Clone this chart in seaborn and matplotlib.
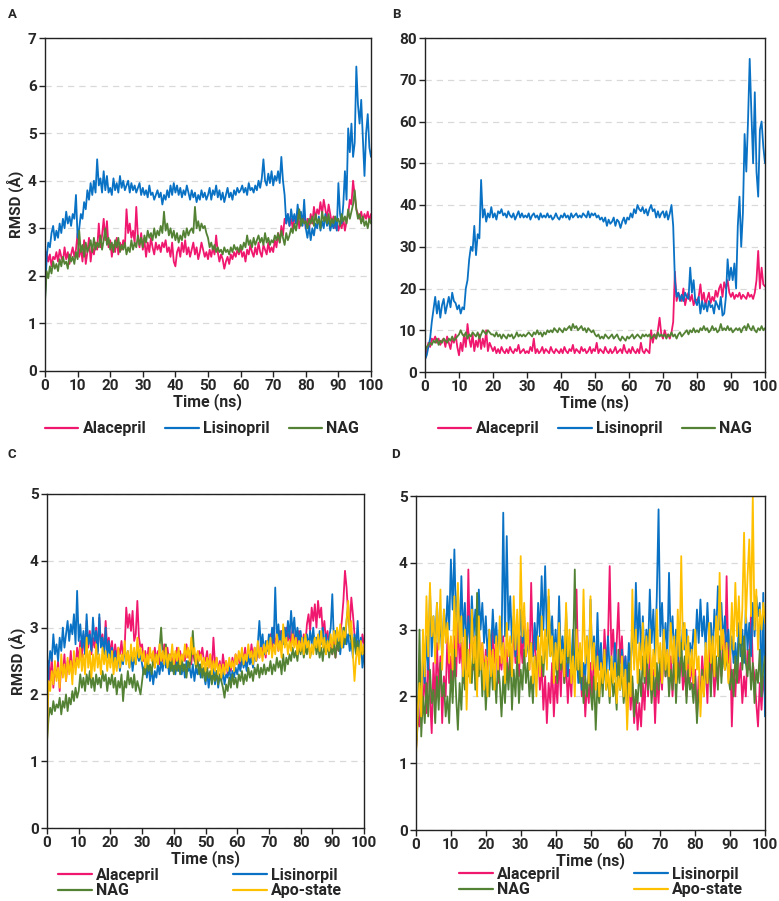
import numpy as np
import pandas as pd
import matplotlib
matplotlib.use("Agg")
import matplotlib.pyplot as plt
from matplotlib.lines import Line2D
import seaborn as sns

sns.set_style("ticks")
plt.rcParams['font.family'] = ['Roboto', 'DejaVu Sans']
plt.rcParams['font.weight'] = 'bold'
plt.rcParams['axes.labelweight'] = 'bold'

# ---------------- data (RMSD, sampled every 0.5 ns from 0 to 100 ns) ----------------
A_ala = [1.6, 2.5, 2.3, 2.45, 2.2, 2.4, 2.35, 2.5, 2.3, 2.55, 2.4, 2.3, 2.6, 2.35, 2.5, 2.25, 2.45, 2.6, 2.4, 2.55,
         2.9, 2.4, 2.6, 2.3, 2.75, 2.25, 2.5, 2.8, 2.3, 2.6, 2.45, 2.7, 2.55, 3.1, 2.6, 2.85, 3.2, 2.75, 3.15, 2.6,
         2.75, 2.4, 2.65, 2.5, 2.8, 2.45, 2.7, 2.55, 2.75, 2.6, 3.4, 2.9, 3.1, 2.8, 2.95, 2.7, 3.45, 2.8, 2.6, 2.9,
         2.55, 2.75, 2.4, 2.7, 2.5, 2.8, 2.6, 2.45, 2.7, 2.55, 2.65, 2.5, 2.7, 2.6, 2.75, 2.5, 2.6, 2.4, 2.7, 2.3,
         2.2, 2.5, 2.6, 2.4, 2.7, 2.5, 2.75, 2.45, 2.6, 2.4, 2.55, 2.7, 2.45, 2.6, 2.35, 2.5, 2.7, 2.55, 2.4, 2.5,
         2.35, 2.55, 2.4, 2.6, 2.45, 2.85, 2.5, 2.3, 2.45, 2.35, 2.15, 2.3, 2.4, 2.25, 2.45, 2.35, 2.5, 2.4, 2.55, 2.45,
         2.6, 2.4, 2.5, 2.3, 2.55, 2.45, 2.65, 2.5, 2.4, 2.6, 2.45, 2.7, 2.5, 2.4, 2.65, 2.55, 2.45, 2.7, 2.5, 2.6,
         2.5, 2.75, 2.6, 2.9, 2.7, 3.05, 2.85, 3.2, 3.1, 3.3, 3.05, 3.2, 3.0, 3.25, 3.1, 3.35, 3.0, 3.2, 3.1, 3.3,
         3.0, 3.2, 2.95, 3.3, 3.1, 3.45, 3.2, 3.4, 3.3, 3.55, 3.3, 3.6, 3.4, 3.2, 3.5, 3.3, 3.1, 3.25, 3.0, 3.15,
         2.95, 3.1, 3.0, 3.2, 2.95, 3.15, 3.3, 3.6, 3.5, 4.0, 3.7, 3.4, 3.3, 3.2, 3.35, 3.15, 3.3, 3.2, 3.35, 3.15, 3.3]
A_lis = [1.5, 2.4, 2.7, 2.6, 2.9, 3.05, 2.75, 2.95, 2.8, 3.1, 2.9, 3.2, 3.0, 3.35, 3.1, 3.25, 3.05, 3.3, 3.2, 3.7,
         2.8, 3.0, 3.3, 3.2, 3.55, 3.4, 3.8, 3.6, 3.95, 3.7, 4.0, 3.75, 4.45, 3.9, 4.05, 3.75, 4.2, 3.8, 4.1, 3.75,
         3.85, 3.7, 4.05, 3.8, 3.95, 3.75, 4.1, 3.85, 4.0, 3.8, 3.9, 4.0, 3.75, 3.95, 3.8, 3.9, 3.75, 3.85, 3.95, 3.7,
         3.85, 3.7, 3.8, 3.65, 3.9, 3.7, 3.75, 3.6, 3.7, 3.8, 3.65, 3.75, 3.5, 3.7, 3.6, 3.8, 3.65, 3.9, 3.7, 3.95,
         3.75, 3.9, 3.7, 3.85, 3.65, 3.8, 3.7, 3.9, 3.75, 3.6, 3.8, 3.65, 3.75, 3.55, 3.7, 3.6, 3.8, 3.65, 3.75, 3.6,
         3.7, 3.85, 3.6, 3.8, 3.7, 3.9, 3.65, 3.8, 3.6, 3.75, 3.55, 3.7, 3.85, 3.65, 3.75, 3.6, 3.8, 3.7, 3.85, 3.75,
         3.8, 3.9, 3.75, 3.85, 3.7, 3.95, 3.8, 3.85, 3.75, 3.9, 3.8, 4.0, 3.85, 4.05, 4.45, 4.0, 3.9, 4.15, 3.95, 4.2,
         3.9, 4.1, 4.0, 4.2, 3.95, 4.5, 4.0, 3.7, 3.1, 3.3, 3.05, 3.4, 3.15, 3.3, 3.1, 3.5, 3.2, 3.35, 3.05, 3.6,
         3.0, 2.8, 3.05, 2.75, 3.0, 2.85, 3.1, 3.0, 3.25, 2.95, 3.15, 3.0, 3.3, 3.05, 3.2, 2.95, 3.1, 3.0, 3.2, 2.95,
         3.95, 3.3, 3.1, 3.5, 4.2, 3.6, 5.1, 4.6, 5.2, 4.5, 4.8, 6.4, 5.6, 5.2, 5.7, 4.9, 4.1, 5.0, 5.4, 4.7, 4.5]
A_nag = [1.45, 2.1, 1.95, 2.2, 2.05, 2.3, 2.15, 2.25, 2.1, 2.35, 2.2, 2.4, 2.25, 2.3, 2.15, 2.45, 2.3, 2.4, 2.25, 2.5,
         2.35, 2.95, 2.5, 2.65, 2.4, 2.7, 2.5, 2.6, 2.75, 2.5, 2.8, 2.55, 2.7, 2.6, 2.85, 2.55, 2.75, 3.0, 2.65, 2.8,
         2.55, 2.7, 2.5, 2.75, 2.6, 2.8, 2.5, 2.65, 2.55, 2.7, 2.45, 2.6, 2.5, 2.75, 2.55, 2.7, 2.6, 2.85, 2.65, 2.8,
         2.6, 2.85, 2.7, 2.95, 2.8, 2.9, 2.75, 3.0, 2.8, 2.95, 2.85, 3.05, 2.9, 3.35, 2.95, 3.1, 2.85, 3.0, 2.8, 2.95,
         2.75, 2.9, 2.7, 2.85, 2.75, 2.95, 2.8, 3.0, 2.85, 2.95, 3.0, 2.9, 3.45, 3.0, 3.15, 2.95, 3.1, 3.0, 3.05, 2.9,
         2.8, 2.6, 2.7, 2.55, 2.65, 2.5, 2.6, 2.5, 2.55, 2.45, 2.6, 2.5, 2.55, 2.45, 2.6, 2.5, 2.65, 2.55, 2.6, 2.5,
         2.65, 2.55, 2.7, 2.6, 2.85, 2.65, 2.75, 2.6, 2.8, 2.65, 2.75, 2.85, 2.7, 2.8, 2.65, 2.9, 2.7, 2.8, 2.65, 2.75,
         2.7, 2.85, 2.75, 2.9, 2.7, 2.95, 2.8, 2.65, 2.9, 2.75, 2.85, 3.0, 2.9, 3.1, 2.95, 3.15, 3.4, 3.05, 3.2, 3.1,
         3.15, 3.0, 3.2, 3.1, 3.25, 3.05, 3.3, 3.1, 3.2, 3.0, 3.35, 3.15, 3.25, 3.1, 3.3, 3.05, 3.2, 3.1, 3.25, 3.15,
         3.2, 3.05, 3.3, 3.15, 3.25, 3.1, 3.4, 3.2, 3.35, 3.5, 3.8, 3.4, 3.2, 3.3, 3.1, 3.25, 3.05, 3.15, 3.0, 3.2, 3.1]

B_ala = [3, 5, 7, 6, 8, 7.5, 8.5, 7, 8, 6.5, 7.5, 8, 6, 8.5, 7, 5.5, 8, 7, 9, 6,
         4, 7, 5, 9, 6, 11.5, 8, 6, 9, 5, 7.5, 6, 9, 5.5, 8, 6, 10, 5, 7, 6,
         5, 6, 4.5, 5.5, 4.5, 6, 5, 4.5, 5.5, 4.5, 6, 5, 4.5, 5.5, 5, 6.5, 4.5, 5, 5.5, 4.5,
         5, 4.5, 6, 5, 8, 4.5, 5.5, 4.5, 5, 6, 4.5, 5.5, 5, 4.5, 6, 5, 4.5, 5.5, 5, 4.5,
         5.5, 4.5, 6, 5, 4.5, 5.5, 5, 6.5, 4.5, 5.5, 5, 4.5, 6, 5, 5.5, 4.5, 5, 6, 4.5, 5.5,
         5, 7, 4.5, 5.5, 5, 4.5, 6, 5, 4.5, 5.5, 4.5, 5, 6, 4.5, 5, 5.5, 4.5, 6.5, 5, 4.5,
         5.5, 4.5, 6, 5, 4.5, 5.5, 4.5, 7, 5, 4.5, 5.5, 5, 4.5, 10, 7, 9, 8, 10, 13, 9,
         8, 10, 8.5, 9, 8, 9.5, 12, 24, 17, 19, 18, 17, 20, 16, 18, 19, 17, 18.5, 16, 17.5,
         17, 18, 21, 17, 19, 16, 17.5, 19, 16.5, 18, 17, 19.5, 18, 20, 21, 18, 21.5, 20, 22, 19,
         18, 19, 17.5, 18.5, 18, 19, 17.5, 18.5, 18, 17.5, 19, 18, 18.5, 17.5, 19, 22, 29, 20, 25, 21, 20.5]
B_lis = [3, 4, 6, 8, 12, 15, 18, 14, 17, 13, 16, 17.5, 14, 16, 18, 15.5, 19, 17, 16.5, 15,
         16, 14, 15.5, 15, 20, 22, 27, 30, 29, 35, 28, 33, 32, 46, 37, 39, 36, 38, 37, 39.5,
         37, 38, 36.5, 38.5, 38, 39, 37.5, 38, 37, 38.5, 37.5, 37, 38, 36.5, 37.5, 38.5, 37, 38, 37, 37.5,
         37, 38, 36.5, 37.5, 38, 37, 37.5, 36.5, 38, 37, 37.5, 37, 38, 37, 37.5, 36.5, 37, 38, 37, 36.5,
         37.5, 37, 38, 37, 37.5, 36.5, 38, 37, 37.5, 38, 37, 37.5, 37, 38, 37.5, 37, 38.5, 37, 38, 37.5,
         38, 37, 37.5, 36.5, 37, 36, 37, 35, 36.5, 35.5, 36, 37, 35, 36.5, 36, 34.5, 36, 37, 35.5, 37,
         36.5, 38, 37, 39, 38, 40, 39, 38.5, 39.5, 38, 39, 37.5, 39, 40, 38.5, 39, 37, 38.5, 37, 38,
         38.5, 37, 38.5, 36.5, 38, 40, 35, 22, 18, 19, 17, 18.5, 17, 19, 18, 17.5, 25, 19, 22, 17,
         16, 18, 14, 17, 15, 16.5, 14.5, 17, 15.5, 16, 14, 17, 16, 15, 18, 13.5, 14, 18, 27, 22,
         25, 22, 26, 20, 35, 42, 30, 38, 57, 48, 60, 75, 62, 50, 67, 48, 42, 58, 60, 54, 50]
B_nag = [5, 6, 6.5, 7, 6.5, 7.5, 7, 8, 6.5, 7.5, 7, 8, 7.5, 7, 8, 7.5, 8.5, 7.5, 8, 8.5,
         9, 10, 9, 8.5, 9.5, 8, 9, 8.5, 9.5, 9, 8.5, 9.5, 8, 9, 10, 9.5, 9, 10, 9.5, 9,
         9, 8.5, 9.5, 8.5, 9, 8, 9, 8.5, 8, 9, 8.5, 9, 8, 8.5, 9.5, 8.5, 9, 8.5, 9, 8.5,
         9, 9.5, 9, 8.5, 9.5, 9, 10, 9, 9.5, 8.5, 9.5, 9, 10, 9.5, 10, 9.5, 10.5, 10, 9.5, 10.5,
         10, 9.5, 10.5, 10, 10.5, 11, 10, 11.5, 10.5, 11, 10, 10.5, 11, 10, 10.5, 9.5, 10.5, 10, 9.5, 10,
         9, 8.5, 9, 8, 8.5, 8, 9, 8.5, 8, 8.5, 9, 8, 8.5, 9, 8, 7.5, 8.5, 8, 7.5, 8.5,
         8, 8.5, 9, 8, 8.5, 9, 8.5, 8, 9, 8.5, 9, 8.5, 9, 8, 8.5, 9, 8, 9.5, 8.5, 9,
         8.5, 9, 8, 9, 8.5, 9.5, 8.5, 9, 8, 9, 9.5, 8.5, 9, 9.5, 10, 9, 10, 9.5, 10.5, 9.5,
         10, 9.5, 10.5, 10, 11, 10, 10.5, 9.5, 10, 11, 10, 10.5, 9.5, 10, 11.5, 10, 10.5, 10, 11, 10,
         10.5, 9.5, 10, 10.5, 10, 10.5, 9.5, 10.5, 11, 10, 11.5, 10.5, 10, 11, 10, 9.5, 10.5, 10, 11, 10, 10.5]

C_ala = [1.5, 2.5, 2.2, 2.55, 2.1, 2.4, 2.25, 2.5, 2.05, 2.45, 2.3, 2.6, 2.2, 2.5, 2.35, 2.65, 2.3, 2.55, 2.4, 2.7,
         2.5, 2.8, 2.55, 2.9, 2.6, 3.1, 2.7, 2.95, 2.6, 2.85, 2.7, 3.0, 2.65, 3.15, 2.75, 2.9, 2.6, 3.1, 2.7, 2.85,
         2.6, 2.8, 2.5, 2.75, 2.55, 2.7, 2.6, 2.8, 2.55, 2.7, 3.3, 3.0, 3.2, 2.95, 3.25, 2.8, 2.9, 3.4, 2.85, 2.7,
         2.75, 2.5, 2.65, 2.45, 2.7, 2.55, 2.6, 2.45, 2.7, 2.5, 2.65, 2.45, 2.6, 2.5, 2.75, 2.55, 2.7, 2.5, 2.6, 2.45,
         2.6, 2.45, 2.7, 2.5, 2.65, 2.45, 2.6, 2.5, 2.75, 2.55, 2.65, 2.45, 2.7, 2.5, 2.6, 2.45, 2.65, 2.55, 2.7, 2.5,
         2.5, 2.65, 2.4, 2.6, 2.35, 2.85, 2.45, 2.55, 2.35, 2.5, 2.3, 2.6, 2.4, 2.5, 2.3, 2.45, 2.35, 2.55, 2.4, 2.6,
         2.45, 2.6, 2.4, 2.65, 2.5, 2.7, 2.45, 2.6, 2.5, 2.75, 2.55, 2.7, 2.5, 2.65, 2.55, 2.8, 2.6, 2.7, 2.55, 2.8,
         2.65, 2.9, 2.7, 3.0, 2.75, 2.85, 2.65, 2.95, 2.7, 2.9, 2.75, 3.0, 2.8, 2.95, 2.7, 3.05, 2.8, 2.9, 2.75, 2.95,
         2.8, 2.7, 2.9, 2.75, 3.05, 3.2, 2.95, 3.3, 3.1, 3.35, 3.0, 3.4, 3.15, 3.3, 2.9, 3.1, 2.8, 2.95, 2.7, 2.85,
         2.6, 2.8, 2.55, 2.75, 2.65, 2.9, 3.1, 3.4, 3.85, 3.6, 3.2, 3.0, 3.45, 3.2, 2.9, 2.75, 2.6, 2.8, 2.65, 2.9, 2.75]
C_lis = [1.5, 2.4, 2.65, 2.5, 2.9, 2.6, 2.75, 2.5, 2.85, 2.65, 3.0, 2.7, 2.9, 3.1, 2.8, 3.05, 2.9, 3.2, 2.75, 3.55,
         2.8, 3.05, 2.7, 2.95, 2.6, 3.2, 2.75, 2.9, 2.65, 3.15, 2.8, 2.95, 2.6, 3.2, 2.7, 2.85, 2.6, 3.0, 2.55, 2.8,
         2.5, 2.7, 2.45, 2.65, 2.4, 2.6, 2.35, 2.55, 2.45, 2.7, 2.5, 2.65, 2.4, 2.6, 2.35, 2.55, 2.45, 2.65, 2.5, 2.6,
         2.45, 2.3, 2.5, 2.25, 2.45, 2.2, 2.4, 2.15, 2.35, 2.25, 2.45, 2.3, 2.5, 2.35, 2.6, 2.4, 2.55, 2.3, 2.5, 2.35,
         2.45, 2.3, 2.5, 2.35, 2.55, 2.3, 2.45, 2.25, 2.5, 2.35, 2.4, 2.25, 2.45, 2.2, 2.4, 2.3, 2.45, 2.25, 2.4, 2.3,
         2.15, 2.35, 2.1, 2.3, 2.2, 2.4, 2.15, 2.35, 2.1, 2.3, 2.2, 2.35, 2.15, 2.3, 2.25, 2.4, 2.2, 2.35, 2.25, 2.4,
         2.3, 2.45, 2.35, 2.55, 2.4, 2.5, 2.35, 2.6, 2.45, 2.55, 2.4, 2.65, 2.5, 2.75, 3.1, 2.7, 2.9, 2.6, 2.8, 2.65,
         2.9, 2.7, 3.0, 2.75, 3.6, 2.8, 3.05, 2.7, 2.95, 2.75, 3.0, 2.8, 3.1, 2.85, 3.25, 2.9, 3.15, 2.8, 3.0, 2.75,
         2.95, 2.7, 2.85, 2.65, 2.9, 2.7, 2.95, 2.75, 3.0, 2.7, 2.85, 2.65, 2.95, 2.75, 3.0, 2.7, 2.9, 2.65, 2.85, 3.0,
         3.5, 2.8, 2.95, 2.7, 2.9, 2.6, 2.85, 2.7, 3.0, 2.75, 2.9, 2.65, 2.8, 2.55, 2.9, 2.7, 3.1, 2.6, 2.85, 2.4, 2.6]
C_nag = [1.3, 1.65, 1.8, 1.7, 1.9, 1.75, 1.85, 1.8, 1.95, 1.7, 1.9, 1.8, 2.0, 1.75, 1.95, 1.85, 2.05, 1.9, 2.1, 1.95,
         2.05, 2.3, 2.1, 2.25, 2.05, 2.3, 2.15, 2.35, 2.1, 2.25, 2.05, 2.3, 2.15, 2.25, 2.1, 2.35, 2.2, 2.3, 2.05, 2.25,
         2.15, 2.3, 2.1, 2.25, 2.0, 2.2, 2.1, 2.3, 1.9, 2.2, 2.1, 2.35, 2.15, 2.25, 2.1, 2.3, 2.05, 2.2, 2.1, 2.0,
         2.2, 2.4, 2.3, 2.5, 2.35, 2.45, 2.3, 2.55, 2.4, 2.6, 2.45, 2.7, 3.0, 2.6, 2.5, 2.75, 2.4, 2.6, 2.35, 2.5,
         2.3, 2.45, 2.35, 2.5, 2.3, 2.55, 2.35, 2.45, 2.25, 2.5, 2.4, 2.6, 2.95, 2.55, 2.4, 2.5, 2.3, 2.45, 2.25, 2.4,
         2.2, 2.4, 2.25, 2.35, 2.15, 2.3, 2.2, 2.35, 2.15, 2.3, 2.2, 2.1, 1.95, 2.15, 2.05, 2.25, 2.1, 2.3, 2.15, 2.25,
         2.1, 2.3, 2.2, 2.35, 2.15, 2.3, 2.2, 2.4, 2.25, 2.35, 2.2, 2.4, 2.3, 2.45, 2.25, 2.4, 2.3, 2.45, 2.3, 2.4,
         2.35, 2.5, 2.3, 2.45, 2.35, 2.55, 2.4, 2.5, 2.3, 2.6, 2.35, 2.55, 2.45, 2.6, 2.5, 2.7, 2.55, 2.65, 2.5, 2.75,
         2.6, 2.75, 2.55, 2.7, 2.6, 2.8, 2.55, 2.7, 2.65, 2.85, 2.6, 2.75, 2.55, 2.7, 2.5, 2.75, 2.6, 2.8, 2.55, 2.7,
         2.6, 2.75, 2.55, 2.8, 2.65, 2.9, 2.7, 3.0, 2.75, 3.1, 3.35, 2.9, 2.8, 2.65, 2.85, 2.6, 2.8, 2.55, 2.75, 2.6, 2.7]
C_apo = [1.25, 2.2, 2.05, 2.35, 2.15, 2.5, 2.2, 2.4, 2.1, 2.6, 2.25, 2.45, 2.2, 2.55, 2.3, 2.5, 2.15, 2.65, 2.3, 2.55,
         2.4, 2.7, 2.35, 2.6, 2.3, 2.85, 2.4, 2.65, 2.25, 2.6, 2.35, 2.75, 2.4, 2.6, 2.3, 2.7, 2.45, 2.65, 2.35, 2.6,
         2.4, 2.65, 2.3, 2.55, 2.35, 2.7, 2.4, 2.6, 2.5, 2.8, 2.45, 2.65, 2.4, 2.75, 2.5, 2.7, 2.45, 2.85, 2.55, 2.7,
         2.5, 2.65, 2.4, 2.6, 2.45, 2.7, 2.5, 2.65, 2.4, 2.6, 2.45, 2.75, 2.5, 2.65, 2.45, 2.7, 2.4, 2.6, 2.5, 2.75,
         2.45, 2.65, 2.5, 2.7, 2.45, 2.6, 2.5, 2.75, 2.55, 2.7, 2.5, 2.85, 2.6, 2.7, 2.45, 2.65, 2.5, 2.6, 2.4, 2.55,
         2.35, 2.55, 2.4, 2.6, 2.3, 2.5, 2.35, 2.55, 2.3, 2.45, 2.25, 2.45, 2.3, 2.5, 2.35, 2.55, 2.4, 2.5, 2.35, 2.6,
         2.45, 2.65, 2.5, 2.7, 2.45, 2.6, 2.5, 2.75, 2.55, 2.65, 2.45, 2.7, 2.5, 2.8, 2.55, 2.7, 2.5, 2.75, 2.6, 2.8,
         2.6, 2.85, 2.55, 2.75, 2.6, 2.9, 2.65, 2.8, 2.55, 3.05, 2.7, 2.85, 2.6, 2.8, 2.65, 2.9, 2.7, 2.85, 2.6, 2.8,
         2.65, 2.85, 2.6, 2.9, 2.7, 2.8, 2.55, 2.75, 2.6, 2.85, 2.7, 2.9, 2.65, 2.95, 2.7, 2.85, 2.6, 2.8, 2.65, 2.9,
         2.7, 2.95, 2.75, 3.0, 2.8, 3.05, 2.7, 2.95, 2.85, 3.1, 3.4, 2.9, 3.1, 2.6, 2.2, 2.55, 2.7, 2.45, 2.8, 2.6, 2.75]

D_ala = [1.2, 1.7, 1.55, 2.1, 1.8, 2.4, 1.75, 2.7, 2.0, 1.45, 2.5, 1.9, 2.8, 2.1, 2.6, 1.6, 2.3, 2.0, 2.9, 2.2,
         2.6, 2.1, 2.9, 2.3, 3.1, 2.5, 2.8, 2.2, 3.0, 2.4, 3.9, 2.6, 3.2, 2.4, 2.9, 2.2, 3.0, 2.5, 2.8, 2.3,
         2.7, 2.2, 2.9, 2.4, 3.0, 2.5, 2.8, 2.2, 2.6, 2.4, 2.9, 2.3, 2.7, 2.2, 2.6, 2.4, 3.1, 2.5, 2.8, 2.3,
         2.9, 2.5, 3.2, 2.6, 3.0, 2.4, 3.7, 2.6, 2.9, 2.3, 2.7, 2.1, 2.5, 1.8, 2.3, 1.6, 2.2, 1.9, 2.5, 1.7,
         2.3, 1.9, 2.6, 2.0, 2.8, 2.2, 2.5, 1.9, 2.4, 2.0, 2.7, 2.2, 3.6, 2.3, 2.6, 2.0, 2.4, 1.7, 2.2, 1.9,
         2.5, 2.0, 2.7, 2.2, 2.9, 2.4, 2.6, 2.2, 3.0, 2.5, 2.8, 3.95, 2.6, 3.0, 2.4, 2.8, 3.4, 2.5, 2.9, 2.3,
         2.6, 2.0, 2.4, 1.8, 2.2, 1.6, 2.0, 1.5, 1.9, 1.55, 2.2, 1.8, 2.5, 2.0, 2.7, 2.2, 2.4, 1.6, 2.3, 1.9,
         2.5, 2.1, 2.9, 2.3, 2.7, 2.2, 2.6, 2.0, 2.5, 2.2, 2.8, 2.3, 2.6, 2.1, 2.4, 2.0, 2.7, 2.2, 2.5, 2.1,
         2.4, 1.7, 2.3, 2.0, 2.6, 2.2, 2.5, 1.9, 2.8, 2.3, 2.6, 2.0, 2.4, 2.2, 2.7, 2.3, 2.9, 2.4, 3.8, 2.5,
         2.8, 1.55, 2.4, 2.0, 2.6, 2.2, 2.5, 1.9, 2.3, 2.0, 2.7, 2.4, 3.3, 2.5, 2.3, 1.9, 1.55, 2.2, 1.8, 2.3, 2.0]
D_lis = [1.3, 1.9, 2.1, 1.8, 2.6, 2.2, 2.9, 2.4, 3.6, 2.6, 3.2, 2.7, 3.4, 2.8, 3.1, 2.6, 3.3, 2.9, 3.5, 3.0,
         4.05, 3.3, 4.2, 3.0, 3.6, 2.8, 3.8, 2.9, 3.4, 2.7, 3.2, 2.8, 3.5, 2.9, 3.3, 2.7, 3.6, 3.0, 3.4, 2.8,
         3.2, 2.6, 3.0, 2.7, 3.3, 2.8, 3.1, 2.6, 3.0, 2.7, 4.75, 2.9, 4.4, 3.0, 3.5, 2.8, 3.2, 2.6, 3.0, 2.7,
         3.3, 2.8, 3.0, 2.6, 2.9, 2.5, 2.8, 2.6, 3.1, 2.7, 3.4, 2.9, 3.8, 3.0, 3.95, 2.9, 3.5, 2.8, 3.2, 2.6,
         3.0, 2.5, 3.5, 2.6, 2.9, 2.4, 2.8, 2.3, 2.7, 2.5, 3.0, 2.4, 2.8, 2.2, 2.6, 2.1, 2.5, 2.3, 2.9, 2.4,
         3.45, 2.5, 2.9, 2.3, 3.25, 2.4, 2.8, 2.2, 2.7, 2.3, 2.9, 2.4, 2.6, 2.2, 2.8, 2.3, 2.5, 2.1, 2.7, 2.3,
         2.6, 2.2, 2.8, 2.4, 3.1, 2.5, 3.7, 2.8, 3.4, 2.6, 3.2, 2.5, 3.0, 2.7, 3.6, 2.8, 3.3, 2.6, 3.5, 4.8,
         2.9, 3.4, 2.7, 3.1, 2.6, 3.85, 2.8, 3.2, 2.6, 3.0, 2.5, 2.9, 2.6, 3.1, 2.7, 3.0, 2.5, 2.8, 2.6, 3.0,
         2.7, 3.3, 2.8, 3.45, 2.9, 3.2, 2.7, 3.4, 2.8, 3.1, 2.6, 3.3, 2.9, 3.65, 3.0, 3.4, 2.8, 3.2, 2.7, 3.0,
         2.6, 2.9, 2.5, 2.8, 2.4, 3.1, 2.6, 3.0, 2.5, 3.3, 2.7, 3.1, 2.6, 3.4, 2.9, 3.5, 3.2, 3.4, 2.0, 3.55, 1.7]
D_nag = [1.2, 1.6, 3.0, 1.4, 2.0, 1.6, 2.2, 1.7, 2.4, 1.9, 2.1, 1.6, 2.3, 1.8, 2.5, 2.0, 2.2, 1.7, 2.0, 1.6,
         2.4, 1.9, 2.7, 2.0, 1.5, 2.2, 1.8, 2.5, 2.1, 2.9, 2.3, 2.6, 2.2, 2.8, 2.1, 3.55, 2.3, 2.7, 2.0, 2.5,
         1.8, 2.3, 2.0, 2.6, 2.1, 2.4, 1.9, 2.5, 2.2, 1.7, 2.3, 1.9, 2.5, 2.1, 2.7, 1.8, 2.4, 2.0, 2.6, 1.9,
         2.4, 2.1, 2.7, 2.2, 2.5, 2.0, 2.3, 1.9, 2.6, 2.2, 2.8, 2.4, 2.6, 2.3, 2.9, 2.5, 3.1, 2.6, 2.8, 2.3,
         2.6, 2.2, 2.9, 2.4, 2.7, 2.2, 3.3, 2.5, 2.8, 2.3, 2.6, 3.9, 2.4, 2.7, 2.2, 2.5, 1.9, 2.3, 2.0, 2.4,
         2.1, 1.8, 2.3, 1.5, 2.2, 1.9, 2.4, 2.0, 2.6, 2.1, 2.3, 1.9, 2.5, 2.0, 2.2, 1.8, 2.7, 2.1, 2.4, 1.9,
         2.2, 1.8, 2.5, 2.0, 2.3, 1.7, 2.1, 1.9, 2.4, 2.0, 2.6, 2.2, 2.8, 2.1, 2.4, 1.9, 2.3, 2.0, 2.5, 2.1,
         2.7, 2.2, 2.9, 2.3, 2.6, 2.0, 2.4, 2.1, 2.7, 1.9, 2.5, 2.2, 2.8, 2.3, 2.6, 1.9, 2.4, 2.1, 2.2, 1.9,
         2.3, 1.6, 2.1, 1.9, 2.4, 2.0, 2.7, 2.2, 2.5, 2.0, 2.8, 2.3, 2.6, 2.1, 2.9, 2.2, 2.7, 2.4, 2.6, 2.3,
         2.1, 2.4, 2.0, 2.6, 2.2, 2.8, 3.0, 2.4, 2.9, 2.5, 2.3, 2.7, 2.1, 2.5, 1.9, 2.4, 2.2, 2.7, 2.0, 2.4, 2.6]
D_apo = [1.1, 1.8, 2.2, 1.7, 3.0, 2.3, 3.5, 2.6, 3.7, 2.9, 3.2, 2.5, 3.4, 2.7, 3.6, 2.4, 3.3, 2.8, 3.1, 2.5,
         2.9, 2.4, 3.5, 2.6, 3.7, 2.8, 3.2, 2.3, 3.0, 1.8, 2.7, 2.2, 3.3, 2.5, 2.9, 2.0, 3.2, 2.4, 2.8, 2.1,
         2.6, 2.0, 3.0, 2.3, 2.7, 2.1, 2.9, 2.4, 3.2, 2.5, 2.8, 2.2, 3.1, 2.6, 2.9, 2.3, 3.5, 2.7, 3.3, 2.5,
         4.1, 2.9, 3.4, 2.6, 3.1, 2.4, 2.8, 2.2, 2.6, 2.0, 2.9, 2.3, 3.2, 2.5, 3.0, 2.4, 3.6, 2.6, 2.9, 2.2,
         2.8, 2.4, 3.1, 2.5, 2.7, 2.3, 3.4, 2.6, 3.0, 2.2, 2.6, 2.0, 3.0, 2.4, 2.8, 2.3, 3.6, 2.5, 2.9, 2.2,
         3.5, 2.4, 2.8, 2.1, 2.6, 2.0, 2.5, 2.2, 2.7, 2.1, 2.4, 2.0, 2.6, 2.2, 2.5, 1.9, 2.3, 2.1, 2.6, 2.0,
         2.4, 1.5, 2.2, 2.0, 3.6, 2.4, 3.0, 2.2, 2.8, 2.4, 3.1, 2.3, 2.9, 2.5, 3.0, 2.1, 2.7, 2.3, 3.3, 2.5,
         2.8, 2.2, 3.0, 2.4, 2.7, 2.3, 3.1, 2.5, 2.9, 2.2, 3.3, 2.6, 4.1, 2.7, 3.1, 2.4, 2.9, 2.3, 2.7, 2.2,
         3.0, 2.4, 2.6, 1.7, 2.3, 2.0, 2.8, 2.2, 3.1, 2.5, 2.9, 2.3, 3.2, 2.6, 3.85, 2.7, 3.0, 2.4, 2.8, 2.2,
         2.6, 3.4, 2.7, 3.7, 2.9, 3.5, 2.8, 3.3, 4.45, 3.1, 3.8, 4.35, 3.2, 5.0, 3.0, 3.6, 2.7, 3.3, 3.0, 3.4, 3.1]

x_ticks = [0, 10, 20, 30, 40, 50, 60, 70, 80, 90, 100]
colors = {"Alacepril": "#F0176E", "Lisinopril": "#0A72C4", "NAG": "#548235", "Apo-state": "#FFC000"}

def make_df(series):
    frames = []
    for name, vals in series.items():
        t = np.linspace(0, 100, len(vals))
        frames.append(pd.DataFrame({"Time": t, "RMSD": vals, "Compound": name}))
    return pd.concat(frames, ignore_index=True)

panels = [
    dict(label="A", rect=[45, 38, 371, 371], ymax=7, ystep=1, ylabel=True,
         series={"Alacepril": A_ala, "Lisinopril": A_lis, "NAG": A_nag},
         legend="row", legend_xy=(202, 429), legend_names=["Alacepril", "Lisinopril", "NAG"]),
    dict(label="B", rect=[425, 38, 765, 372], ymax=80, ystep=10, ylabel=False,
         series={"Alacepril": B_ala, "Lisinopril": B_lis, "NAG": B_nag},
         legend="row", legend_xy=(595, 429), legend_names=["Alacepril", "Lisinopril", "NAG"]),
    dict(label="C", rect=[47, 494, 364, 828], ymax=5, ystep=1, ylabel=True,
         series={"Alacepril": C_ala, "Lisinopril": C_lis, "NAG": C_nag, "Apo-state": C_apo},
         legend="grid", legend_xy=(200, 883), legend_names=["Alacepril", "Lisinorpil", "NAG", "Apo-state"]),
    dict(label="D", rect=[416, 496, 765, 830], ymax=5, ystep=1, ylabel=False,
         series={"Alacepril": D_ala, "Lisinopril": D_lis, "NAG": D_nag, "Apo-state": D_apo},
         legend="grid", legend_xy=(601, 882), legend_names=["Alacepril", "Lisinorpil", "NAG", "Apo-state"]),
]

W, H = 779, 901
fig = plt.figure(figsize=(W / 100, H / 100), dpi=100)
FS = 11

for p in panels:
    l, t, r, b = p["rect"]
    ax = fig.add_axes([l / W, 1 - b / H, (r - l) / W, (b - t) / H])
    df = make_df(p["series"])
    order = list(p["series"].keys())
    sns.lineplot(data=df, x="Time", y="RMSD", hue="Compound", hue_order=order,
                 palette=[colors[k] for k in order], estimator=None, sort=False,
                 linewidth=1.3, legend=False, ax=ax)
    ax.set_xlim(0, 100)
    ax.set_ylim(0, p["ymax"])
    ax.set_xticks(x_ticks)
    ax.set_yticks(np.arange(0, p["ymax"] + p["ystep"] / 2, p["ystep"]))
    ax.tick_params(axis="both", direction="out", length=4, width=1, labelsize=FS,
                   color="#222222", pad=2)
    for lab in ax.get_xticklabels() + ax.get_yticklabels():
        lab.set_fontweight("bold")
    ax.yaxis.grid(True, linestyle=(0, (5, 4)), color="#D9D9D9", linewidth=0.9)
    ax.set_axisbelow(True)
    for s in ax.spines.values():
        s.set_visible(True)
        s.set_color("#222222")
        s.set_linewidth(1.0)
    ax.set_xlabel("Time (ns)", fontsize=FS + 0.5, fontweight="bold", labelpad=0)
    if p["ylabel"]:
        ax.set_ylabel("RMSD (Å)", fontsize=FS, fontweight="bold", labelpad=3)
    else:
        ax.set_ylabel("")
    fig.text((12 if p["label"] in "AC" else 396) / W, 1 - (14 if p["label"] in "AB" else 455) / H,
             p["label"], fontsize=9.5, fontweight="bold", ha="center", va="center")

    names = p["legend_names"]
    handles = [Line2D([0], [0], color=colors[k], lw=1.6) for k in order]
    lx, ly = p["legend_xy"]
    if p["legend"] == "row":
        fig.legend(handles, names, loc="center", bbox_to_anchor=(lx / W, 1 - ly / H),
                   ncol=3, frameon=False, handlelength=2.1, handletextpad=0.25,
                   columnspacing=1.2, prop={"size": FS + 0.5, "weight": "bold"})
    else:
        # two columns: first column Alacepril / NAG, second Lisinorpil / Apo-state
        hh = [handles[0], handles[2], handles[1], handles[3]]
        nn = [names[0], names[2], names[1], names[3]]
        fig.legend(hh, nn, loc="center", bbox_to_anchor=(lx / W, 1 - ly / H),
                   ncol=2, frameon=False, handlelength=2.1, handletextpad=0.25,
                   columnspacing=4.6, labelspacing=0.05,
                   prop={"size": FS + 0.5, "weight": "bold"})

fig.savefig("out.png", dpi=100, facecolor="white")
